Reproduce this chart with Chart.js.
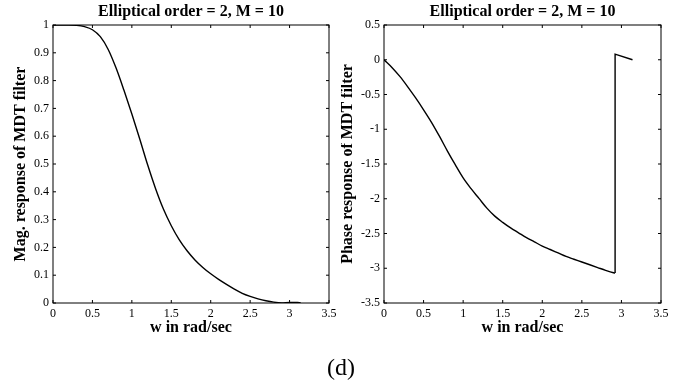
<!DOCTYPE html>
<html>
<head>
<meta charset="utf-8">
<script src="https://cdn.jsdelivr.net/npm/chart.js@4"></script>
<style>
  html, body { margin: 0; padding: 0; background: #fff; overflow: hidden; }
  body { width: 682px; height: 381px; position: relative; }
  canvas { position: absolute; top: 0; }
  #magChart { left: 0; }
  #phaseChart { left: 341px; }
  #caption { position: absolute; left: 0; width: 682px; top: 354px; text-align: center;
             font-family: "Liberation Serif", "Times New Roman", serif; font-size: 24px; }
</style>
</head>
<body>
<canvas id="magChart" width="341" height="381"></canvas>
<canvas id="phaseChart" width="341" height="381"></canvas>
<div id="caption">(d)</div>
<script>
// w in rad/sec
const wMag = [0, 0.1, 0.2, 0.3, 0.4, 0.5, 0.6, 0.7, 0.8, 0.9, 1.0, 1.1, 1.2, 1.3, 1.4, 1.5, 1.6,
              1.7, 1.8, 1.9, 2.0, 2.1, 2.2, 2.3, 2.4, 2.5, 2.6, 2.7, 2.8, 2.9, 3.0, 3.1, 3.14];
const magValues = [1.0, 1.0, 1.0, 0.999, 0.994, 0.983, 0.958, 0.912, 0.845, 0.765, 0.68, 0.59,
                   0.497, 0.412, 0.338, 0.278, 0.228, 0.188, 0.155, 0.128, 0.105, 0.085, 0.067,
                   0.05, 0.035, 0.024, 0.015, 0.008, 0.003, 0.0005, 0.002, 0.002, 0.001];

const wPhase = [0, 0.1, 0.2, 0.3, 0.4, 0.5, 0.6, 0.7, 0.8, 0.9, 1.0, 1.1, 1.2, 1.3, 1.4, 1.5, 1.6,
                1.7, 1.8, 1.9, 2.0, 2.1, 2.2, 2.3, 2.4, 2.5, 2.6, 2.7, 2.8, 2.9, 2.92];
const phaseValues = [0, -0.11, -0.24, -0.39, -0.55, -0.72, -0.90, -1.10, -1.31, -1.51, -1.70,
                     -1.855, -1.995, -2.135, -2.25, -2.34, -2.42, -2.49, -2.56, -2.62, -2.68,
                     -2.73, -2.78, -2.83, -2.87, -2.91, -2.95, -2.99, -3.03, -3.065, -3.07];
// phase wrap at the end of the band
const wJump = [2.92, 2.92, 3.14];
const jumpValues = [-3.07, 0.08, 0.0];

const plotTitle = 'Elliptical order = 2, M = 10';
const xTitle = 'w in rad/sec';

const serif = '"Liberation Serif", "Times New Roman", serif';
const fmt = v => String(Math.round(v * 10) / 10);
const pts = (xs, ys) => xs.map((w, i) => ({ x: w, y: ys[i] }));

// matlab style box with inward ticks on all four sides
const boxTicks = {
  id: 'boxTicks',
  afterDatasetsDraw(chart) {
    const { ctx, chartArea: a, scales: { x, y } } = chart;
    ctx.save();
    ctx.strokeStyle = '#000';
    ctx.lineWidth = 1;
    ctx.strokeRect(a.left, a.top, a.right - a.left, a.bottom - a.top);
    ctx.beginPath();
    x.ticks.forEach(t => {
      const px = x.getPixelForValue(t.value);
      ctx.moveTo(px, a.bottom); ctx.lineTo(px, a.bottom - 3);
      ctx.moveTo(px, a.top); ctx.lineTo(px, a.top + 3);
    });
    y.ticks.forEach(t => {
      const py = y.getPixelForValue(t.value);
      ctx.moveTo(a.left, py); ctx.lineTo(a.left + 3, py);
      ctx.moveTo(a.right, py); ctx.lineTo(a.right - 3, py);
    });
    ctx.stroke();
    ctx.restore();
  }
};

const lineStyle = { showLine: true, borderColor: '#000', borderWidth: 1.4, pointRadius: 0 };

function makeChart(id, datasets, yMin, yMax, yStep, yLabel, yWidth, yTitlePad, padRight) {
  return new Chart(document.getElementById(id), {
    type: 'scatter',
    data: { datasets: datasets },
    options: {
      responsive: false,
      animation: false,
      events: [],
      layout: { padding: { left: 0, right: padRight, top: 0, bottom: 44 } },
      plugins: { legend: { display: false }, tooltip: { enabled: false } },
      scales: {
        x: {
          type: 'linear', position: 'bottom', min: 0, max: 3.5,
          grid: { display: false, drawTicks: false },
          border: { display: false },
          ticks: { stepSize: 0.5, padding: 4, color: '#000', callback: fmt,
                   font: { family: serif, size: 12 }, maxRotation: 0 },
          title: { display: true, text: xTitle, color: '#000', padding: { top: 0, bottom: 0 },
                   font: { family: serif, size: 16, weight: 'bold' } },
          afterFit: s => { s.height = 34; }
        },
        top: {
          type: 'linear', position: 'top', min: 0, max: 3.5,
          grid: { display: false, drawTicks: false },
          border: { display: false },
          ticks: { display: false },
          title: { display: true, text: plotTitle, color: '#000', padding: { top: 2.5, bottom: 0 },
                   font: { family: serif, size: 16, weight: 'bold' } },
          afterFit: s => { s.height = 25; }
        },
        y: {
          type: 'linear', min: yMin, max: yMax,
          grid: { display: false, drawTicks: false },
          border: { display: false },
          ticks: { stepSize: yStep, padding: 4, color: '#000', callback: fmt,
                   font: { family: serif, size: 12 } },
          title: { display: true, text: yLabel, color: '#000', padding: { top: yTitlePad, bottom: 0 },
                   font: { family: serif, size: 16, weight: 'bold' } },
          afterFit: s => { s.width = yWidth; }
        }
      }
    },
    plugins: [boxTicks]
  });
}

makeChart('magChart',
  [Object.assign({ data: pts(wMag, magValues), cubicInterpolationMode: 'monotone' }, lineStyle)],
  0, 1, 0.1, 'Mag. response of MDT filter', 53, 11, 12);
makeChart('phaseChart',
  [Object.assign({ data: pts(wPhase, phaseValues), cubicInterpolationMode: 'monotone' }, lineStyle),
   Object.assign({ data: pts(wJump, jumpValues), tension: 0 }, lineStyle)],
  -3.5, 0.5, 0.5, 'Phase response of MDT filter', 43, -3, 21);
</script>
</body>
</html>
